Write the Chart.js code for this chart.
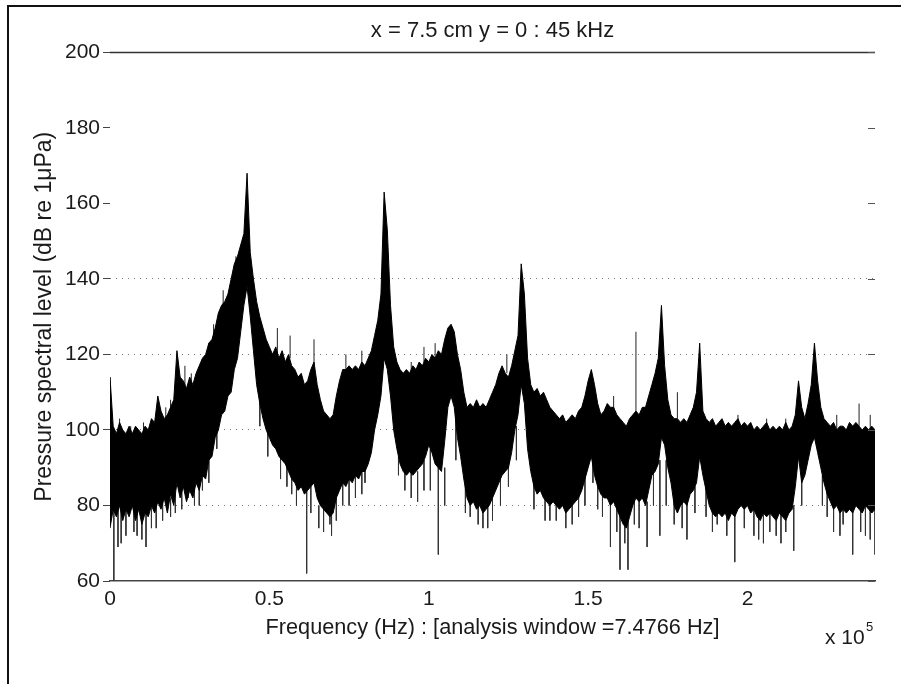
<!DOCTYPE html>
<html>
<head>
<meta charset="utf-8">
<script src="https://cdn.jsdelivr.net/npm/chart.js@4.4.1/dist/chart.umd.min.js"></script>
<style>
  html, body { margin: 0; padding: 0; background: #fff; }
  #wrap { position: relative; width: 901px; height: 684px; overflow: hidden; }
  #frame { position: absolute; left: 7px; top: 5px; right: -4px; bottom: -4px;
           border-left: 2px solid #111; border-top: 2px solid #111; pointer-events: none; }
  canvas { position: absolute; left: 0; top: 0; }
</style>
</head>
<body>
<div id="wrap">
  <canvas id="chart" width="901" height="684"></canvas>
  <div id="frame"></div>
</div>
<script>
// frequency in units of 1e5 Hz, levels in dB re 1 uPa
const freq = [
  0.00, 0.01, 0.02, 0.03, 0.04, 0.05, 0.06, 0.07, 0.08, 0.09,
  0.10, 0.11, 0.12, 0.13, 0.14, 0.15, 0.16, 0.17, 0.18, 0.19,
  0.20, 0.21, 0.22, 0.23, 0.24, 0.25, 0.26, 0.27, 0.28, 0.29,
  0.30, 0.31, 0.32, 0.33, 0.34, 0.35, 0.36, 0.37, 0.38, 0.39,
  0.40, 0.41, 0.42, 0.43, 0.44, 0.45, 0.46, 0.47, 0.48, 0.49,
  0.50, 0.51, 0.52, 0.53, 0.54, 0.55, 0.56, 0.57, 0.58, 0.59,
  0.60, 0.61, 0.62, 0.63, 0.64, 0.65, 0.66, 0.67, 0.68, 0.69,
  0.70, 0.71, 0.72, 0.73, 0.74, 0.75, 0.76, 0.77, 0.78, 0.79,
  0.80, 0.81, 0.82, 0.83, 0.84, 0.85, 0.86, 0.87, 0.88, 0.89,
  0.90, 0.91, 0.92, 0.93, 0.94, 0.95, 0.96, 0.97, 0.98, 0.99,
  1.00, 1.01, 1.02, 1.03, 1.04, 1.05, 1.06, 1.07, 1.08, 1.09,
  1.10, 1.11, 1.12, 1.13, 1.14, 1.15, 1.16, 1.17, 1.18, 1.19,
  1.20, 1.21, 1.22, 1.23, 1.24, 1.25, 1.26, 1.27, 1.28, 1.29,
  1.30, 1.31, 1.32, 1.33, 1.34, 1.35, 1.36, 1.37, 1.38, 1.39,
  1.40, 1.41, 1.42, 1.43, 1.44, 1.45, 1.46, 1.47, 1.48, 1.49,
  1.50, 1.51, 1.52, 1.53, 1.54, 1.55, 1.56, 1.57, 1.58, 1.59,
  1.60, 1.61, 1.62, 1.63, 1.64, 1.65, 1.66, 1.67, 1.68, 1.69,
  1.70, 1.71, 1.72, 1.73, 1.74, 1.75, 1.76, 1.77, 1.78, 1.79,
  1.80, 1.81, 1.82, 1.83, 1.84, 1.85, 1.86, 1.87, 1.88, 1.89,
  1.90, 1.91, 1.92, 1.93, 1.94, 1.95, 1.96, 1.97, 1.98, 1.99,
  2.00, 2.01, 2.02, 2.03, 2.04, 2.05, 2.06, 2.07, 2.08, 2.09,
  2.10, 2.11, 2.12, 2.13, 2.14, 2.15, 2.16, 2.17, 2.18, 2.19,
  2.20, 2.21, 2.22, 2.23, 2.24, 2.25, 2.26, 2.27, 2.28, 2.29,
  2.30, 2.31, 2.32, 2.33, 2.34, 2.35, 2.36, 2.37, 2.38, 2.39,
  2.40];
const upperDb = [
  114, 101, 99, 102, 100, 99, 101, 99, 101, 100,
  99, 101, 100, 103, 102, 109, 105, 103, 104, 106,
  108, 121, 114, 113, 111, 114, 112, 115, 117, 119,
  120, 123, 124, 127, 131, 133, 134, 136, 140, 144,
  146, 149, 152, 168, 147, 140, 134, 130, 127, 124,
  122, 120, 122, 119, 121, 118, 120, 117, 116, 114,
  115, 112, 113, 116, 118, 112, 108, 105, 104, 103,
  104, 109, 113, 116, 116, 117, 116, 117, 116, 118,
  117, 119, 121, 125, 129, 136, 163, 153, 133, 122,
  118, 116, 115, 116, 115, 117, 116, 118, 117, 119,
  118, 120, 119, 121, 120, 124, 127, 128, 126, 120,
  116, 110, 106, 107, 106, 108, 106, 107, 106, 108,
  110, 112, 115, 117, 115, 114, 117, 121, 125, 144,
  136, 119, 112, 110, 111, 109, 110, 108, 106, 105,
  104, 103, 104, 102, 103, 104, 103, 105, 106, 109,
  113, 116, 112, 107, 104, 105, 107, 106, 106, 104,
  103, 102, 101, 103, 104, 105, 104, 106, 106, 109,
  112, 115, 119, 133, 117, 108, 104, 103, 103, 102,
  103, 102, 104, 106, 110, 123, 105, 103, 102, 103,
  101, 102, 103, 101, 102, 101, 102, 103, 101, 102,
  101, 102, 100, 101, 100, 101, 102, 100, 101, 100,
  101, 100, 102, 100, 101, 104, 113, 106, 103, 107,
  112, 123, 113, 106, 103, 102, 101, 102, 100, 101,
  101, 100, 102, 101, 102, 101, 100, 101, 100, 101,
  100];
const lowerDb = [
  74, 79, 77, 80, 76, 79, 77, 80, 76, 79,
  75, 78, 77, 80, 78, 81, 79, 82, 78, 83,
  80, 86, 82, 85, 81, 84, 82, 86, 84, 88,
  87, 92, 93, 98, 100, 104, 105, 109, 110, 116,
  119, 126, 133, 138, 130, 121, 112, 107, 103, 100,
  98, 96, 95, 93, 92, 91, 89, 87, 86, 84,
  85, 83, 84, 85, 86, 82, 80, 79, 78, 77,
  78, 82, 84, 86, 85, 87, 86, 88, 87, 89,
  89, 91, 94, 100, 104, 109, 119, 116, 109, 100,
  95, 91, 89, 88, 89, 88, 89, 90, 91, 93,
  96, 94, 91, 90, 89, 97, 106, 109, 106, 98,
  93, 87, 82, 80, 81, 79, 80, 78, 79, 80,
  82, 84, 86, 88, 89, 90, 94, 100, 104, 112,
  107, 95, 89, 85, 83, 84, 82, 81, 80, 81,
  80, 79, 80, 78, 79, 80, 81, 82, 84, 87,
  90, 93, 88, 85, 83, 82, 82, 80, 81, 79,
  77, 75, 74, 77, 80, 82, 81, 82, 80, 84,
  88, 89, 91, 98, 96, 90, 86, 80, 78, 80,
  81, 80, 83, 84, 86, 93, 88, 84, 80, 78,
  77, 78, 77, 78, 76, 78, 77, 79, 80, 79,
  80, 78, 79, 77, 76, 78, 77, 78, 77, 76,
  78, 77, 76, 78, 79, 85, 93, 86, 88, 92,
  96, 98, 94, 90, 86, 83, 81, 79, 80, 78,
  79, 78, 79, 78, 80, 79, 78, 80, 79, 78,
  79];

// thin downward dropouts: frequency, lowest level, level where it leaves the band
const dipFreq = [0.012, 0.025, 0.035, 0.05, 0.075, 0.085, 0.10, 0.113, 0.13, 0.145, 0.165, 0.19,
  0.205, 0.225, 0.245, 0.265, 0.28, 0.29, 0.31, 0.335, 0.47, 0.495, 0.535, 0.555, 0.57, 0.585,
  0.617, 0.63, 0.655, 0.67, 0.69, 0.695, 0.71, 0.73, 0.75, 0.77, 0.79, 0.80, 0.905, 0.925, 0.945,
  0.965, 0.985, 1.005, 1.03, 1.05, 1.085, 1.115, 1.13, 1.155, 1.17, 1.185, 1.20, 1.225, 1.25,
  1.275, 1.33, 1.365, 1.38, 1.40, 1.43, 1.45, 1.47, 1.49, 1.515, 1.53, 1.545, 1.57, 1.59, 1.60,
  1.615, 1.625, 1.645, 1.66, 1.685, 1.705, 1.725, 1.745, 1.77, 1.795, 1.81, 1.835, 1.87, 1.89,
  1.905, 1.935, 1.96, 1.99, 2.02, 2.035, 2.05, 2.07, 2.09, 2.105, 2.12, 2.145, 2.17, 2.235, 2.25,
  2.27, 2.29, 2.30, 2.33, 2.355, 2.37, 2.385, 2.40];
const dipTip = [60, 69, 70, 72, 73, 72, 71, 69, 74, 74, 76, 77,
  78, 79, 82, 80, 80, 84, 86, 95, 101, 93, 87, 85, 83, 80,
  62, 78, 74, 73, 75, 72, 76, 80, 80, 82, 83, 86, 88, 84, 82,
  81, 84, 84, 67, 80, 92, 78, 77, 75, 74, 74, 76, 80, 85,
  92, 79, 76, 76, 76, 74, 75, 77, 80, 86, 79, 77, 69, 73, 63,
  70, 63, 75, 74, 69, 80, 72, 80, 75, 74, 71, 78, 77, 73,
  75, 72, 65, 74, 72, 71, 70, 73, 72, 70, 73, 68, 80, 80, 77,
  73, 72, 75, 67, 73, 72, 71, 67];
const dipBase = [85, 80, 80, 80, 80, 80, 80, 80, 82, 81, 82, 82,
  83, 86, 86, 86, 87, 89, 94, 101, 108, 100, 94, 92, 88, 87,
  85, 86, 80, 81, 79, 79, 84, 87, 88, 89, 90, 90, 93, 90, 90,
  89, 92, 95, 92, 90, 107, 86, 82, 81, 80, 80, 82, 88, 91,
  101, 86, 84, 82, 81, 80, 81, 83, 88, 93, 86, 84, 82, 81, 78,
  77, 76, 82, 82, 81, 89, 92, 92, 82, 81, 82, 85, 86, 81,
  79, 79, 79, 81, 81, 79, 79, 80, 78, 79, 78, 80, 87, 88, 84,
  81, 80, 80, 80, 80, 81, 80, 80];

// thin upward spikes: frequency, peak level, level where it leaves the band
const spikeFreq = [0.0, 0.03, 0.065, 0.105, 0.175, 0.19, 0.235, 0.255, 0.31, 0.325, 0.355, 0.395,
  0.525, 0.565, 0.64, 0.74, 0.79, 0.945, 0.985, 1.02, 1.245, 1.58, 1.65, 1.78, 1.97, 2.06, 2.12,
  2.28, 2.35, 2.385];
const spikeTip = [114, 103, 101, 102, 106, 108, 117, 115, 123, 128, 137, 146,
  127, 125, 124, 120, 121, 118, 122, 123, 120, 109, 126, 110, 104, 103, 103,
  104, 107, 104];
const spikeBase = [100, 99, 98, 99, 102, 103, 111, 112, 120, 122, 132, 139,
  119, 119, 114, 115, 117, 114, 118, 119, 115, 105, 104, 103, 101, 100, 100,
  100, 101, 100];

const yTicks = [60, 80, 100, 120, 140, 160, 180, 200];
const dottedLevels = [80, 100, 120, 140];

const titleText = 'x = 7.5 cm y = 0 : 45 kHz';
const xTitle = 'Frequency (Hz) : [analysis window =7.4766 Hz]';
const yTitle = 'Pressure spectral level (dB re 1\u03BCPa)';

const FONT = '"Liberation Sans", Arial, Helvetica, sans-serif';
const INK = '#1a1a1a';

function pairs(xs, ys) {
  return xs.map((x, i) => ({ x, y: ys[i] }));
}

function segments(xs, tips, bases) {
  const out = [];
  xs.forEach((x, i) => {
    out.push({ x, y: bases[i] }, { x, y: tips[i] }, { x, y: null });
  });
  return out;
}

const boxPlugin = {
  id: 'box',
  afterDraw(chart) {
    const { ctx, chartArea: a, scales } = chart;
    ctx.save();
    ctx.strokeStyle = '#333';
    ctx.lineWidth = 1.5;
    ctx.beginPath();
    ctx.moveTo(a.left, a.top);
    ctx.lineTo(a.right, a.top);
    ctx.stroke();
    ctx.lineWidth = 1;
    ctx.strokeStyle = '#555';
    yTicks.forEach((v) => {
      const y = Math.round(scales.y.getPixelForValue(v)) + 0.5;
      ctx.beginPath();
      ctx.moveTo(a.right - 7, y);
      ctx.lineTo(a.right, y);
      ctx.stroke();
    });
    ctx.fillStyle = INK;
    ctx.textBaseline = 'alphabetic';
    ctx.textAlign = 'left';
    ctx.font = '21px ' + FONT;
    ctx.fillText('x 10', 825, 644);
    ctx.font = '13px ' + FONT;
    ctx.fillText('5', 866, 631);
    ctx.restore();
  }
};

new Chart(document.getElementById('chart'), {
  type: 'line',
  data: {
    datasets: [
      { data: pairs(freq, upperDb), borderColor: '#000', borderWidth: 1, pointRadius: 0, fill: false },
      { data: pairs(freq, lowerDb), borderColor: '#000', borderWidth: 1, pointRadius: 0,
        fill: '-1', backgroundColor: '#000' },
      { data: segments(dipFreq, dipTip, dipBase), borderColor: '#333', borderWidth: 1,
        pointRadius: 0, spanGaps: false, fill: false },
      { data: segments(spikeFreq, spikeTip, spikeBase), borderColor: '#222', borderWidth: 1,
        pointRadius: 0, spanGaps: false, fill: false }
    ]
  },
  options: {
    responsive: false,
    animation: false,
    devicePixelRatio: 1,
    layout: { padding: { left: 0, right: 26, top: 0, bottom: 0 } },
    elements: { line: { tension: 0 } },
    plugins: {
      legend: { display: false },
      tooltip: { enabled: false },
      title: {
        display: true,
        fullSize: false,
        text: titleText,
        color: INK,
        font: { family: FONT, size: 22, weight: 'normal' },
        padding: { top: 18, bottom: 8 }
      }
    },
    scales: {
      x: {
        type: 'linear',
        min: 0,
        max: 2.4,
        afterFit: (s) => { s.height = 103; },
        ticks: { stepSize: 0.5, includeBounds: false, padding: 6, color: INK,
                 font: { family: FONT, size: 21 },
                 callback: (v) => String(Math.round(v * 10) / 10) },
        grid: { display: false, drawTicks: false },
        border: { display: true, color: '#444', width: 1.5 },
        title: { display: true, text: xTitle, color: INK,
                 font: { family: FONT, size: 21.7 }, padding: { top: 0, bottom: 43 } }
      },
      y: {
        min: 60,
        max: 200,
        afterFit: (s) => { s.width = 110; },
        ticks: { stepSize: 20, padding: 3, color: INK, font: { family: FONT, size: 21 } },
        grid: {
          drawTicks: true,
          tickLength: 7,
          tickColor: '#444',
          lineWidth: 1,
          color: (c) => (c.tick && dottedLevels.includes(c.tick.value) ? '#777' : 'rgba(0,0,0,0)')
        },
        border: { display: false, dash: [1, 5] },
        title: { display: true, text: yTitle, color: INK,
                 font: { family: FONT, size: 23 }, padding: { top: 31, bottom: 0 } }
      }
    }
  },
  plugins: [boxPlugin]
});
</script>
</body>
</html>
